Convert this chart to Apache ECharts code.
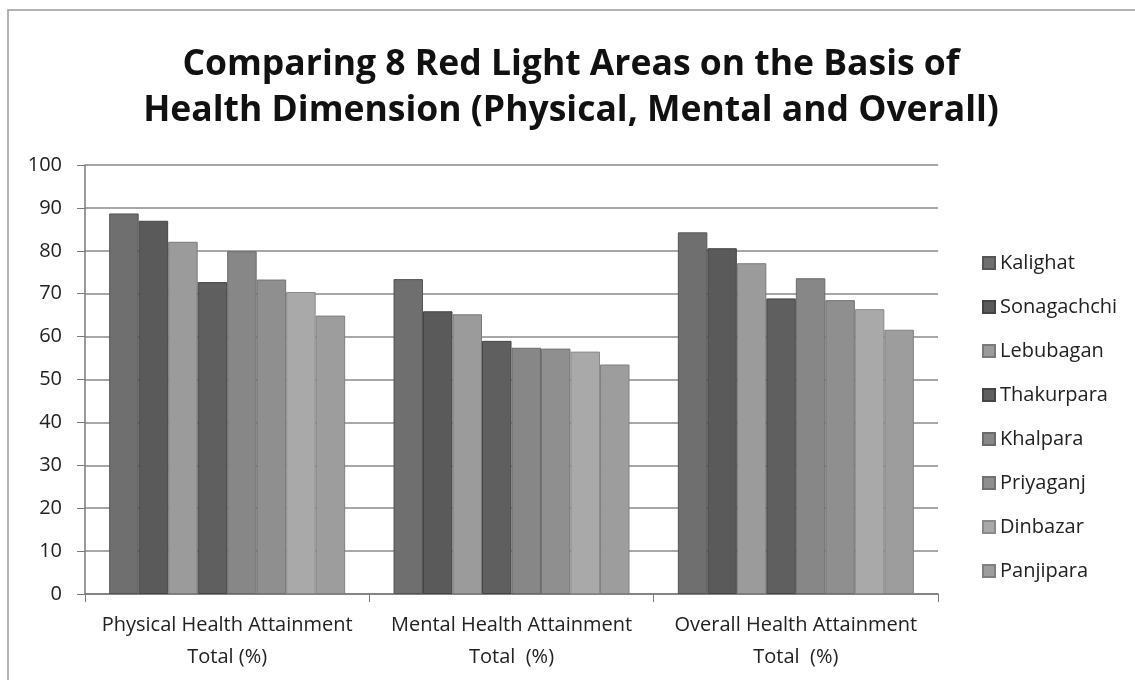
<!DOCTYPE html>
<html>
<head>
<meta charset="utf-8">
<script src="https://cdn.jsdelivr.net/npm/echarts@6/dist/echarts.min.js"></script>
<style>
  html, body { margin: 0; padding: 0; background: #fff; }
  #container { width: 1135px; height: 680px; }
</style>
</head>
<body>
<div id="container"></div>
<script>
var categories = ['Physical Health Attainment\nTotal (%)', 'Mental Health Attainment\nTotal  (%)', 'Overall Health Attainment\nTotal  (%)'];
var areas = ['Kalighat', 'Sonagachchi', 'Lebubagan', 'Thakurpara', 'Khalpara', 'Priyaganj', 'Dinbazar', 'Panjipara'];
// one array per area: [physical, mental, overall]
var kalighat = [88.7, 73.4, 84.3];
var sonagachchi = [87.0, 65.9, 80.6];
var lebubagan = [82.1, 65.2, 77.1];
var thakurpara = [72.7, 59.0, 68.9];
var khalpara = [79.9, 57.4, 73.6];
var priyaganj = [73.3, 57.2, 68.5];
var dinbazar = [70.4, 56.5, 66.4];
var panjipara = [64.9, 53.5, 61.6];
var yTicks = [0, 10, 20, 30, 40, 50, 60, 70, 80, 90, 100];

var values = [kalighat, sonagachchi, lebubagan, thakurpara, khalpara, priyaganj, dinbazar, panjipara];
var colors = ['#6f6f6f', '#5a5a5a', '#9b9b9b', '#5f5f5f', '#878787', '#8f8f8f', '#a9a9a9', '#9d9d9d'];
var borders = ['#555', '#444', '#7a7a7a', '#454545', '#6a6a6a', '#727272', '#8a8a8a', '#808080'];

var font = '"Open Sans", Lato, sans-serif';
var dom = document.getElementById('container');
var myChart = echarts.init(dom);

var series = areas.map(function (name, i) {
    return {
        name: name,
        type: 'bar',
        barGap: '0%',
        barCategoryGap: '17%',
        itemStyle: { color: colors[i], borderColor: borders[i], borderWidth: 1 },
        data: values[i]
    };
});

var option = {
    backgroundColor: '#fff',
    animation: false,
    color: colors,
    graphic: [{
        type: 'polyline',
        shape: { points: [[8, 680], [8, 10], [1135, 10]] },
        style: { stroke: '#9a9a9a', lineWidth: 1.5, fill: null }
    }],
    title: {
        text: 'Comparing 8 Red Light Areas on the Basis of\nHealth Dimension (Physical, Mental and Overall)',
        left: 566,
        textAlign: 'center',
        top: 37,
        textStyle: { fontFamily: font, fontSize: 35.5, fontWeight: 'bold', color: '#111', lineHeight: 46 }
    },
    legend: {
        orient: 'vertical',
        left: 977,
        top: 246,
        itemWidth: 12,
        itemHeight: 12,
        itemGap: 20,
        icon: 'rect',
        textStyle: { fontFamily: font, fontSize: 20, color: '#222', lineHeight: 24 },
        data: areas
    },
    grid: { left: 85, right: 197, top: 165, bottom: 86, containLabel: false },
    xAxis: {
        type: 'category',
        data: categories,
        axisLine: { lineStyle: { color: '#7a7a7a', width: 1.5 } },
        axisTick: { show: true, length: 8, lineStyle: { color: '#7a7a7a' } },
        axisLabel: { interval: 0, hideOverlap: false, fontFamily: font, fontSize: 20, color: '#222', lineHeight: 32, margin: 15 }
    },
    yAxis: {
        type: 'value',
        min: yTicks[0],
        max: yTicks[yTicks.length - 1],
        interval: 10,
        axisLine: { show: true, lineStyle: { color: '#7a7a7a', width: 1.5 } },
        axisTick: { show: true, length: 8, lineStyle: { color: '#7a7a7a' } },
        axisLabel: { fontFamily: font, fontSize: 20, color: '#222', margin: 23 },
        splitLine: { lineStyle: { color: '#8a8a8a', width: 1.5 } }
    },
    series: series
};

if (option && typeof option === 'object') {
    myChart.setOption(option, true);
}
</script>
</body>
</html>
